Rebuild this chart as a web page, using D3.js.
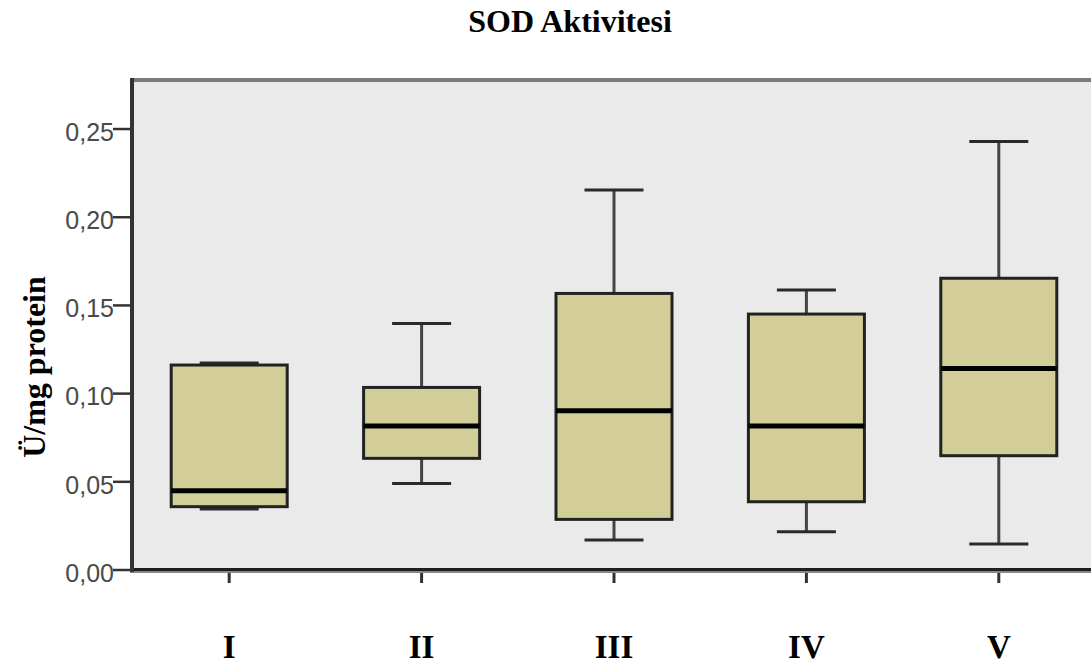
<!DOCTYPE html>
<html>
<head>
<meta charset="utf-8">
<script src="https://cdn.jsdelivr.net/npm/d3@7"></script>
<style>
  body { margin: 0; background: #fff; }
  svg { display: block; }
  .tickLabel { font-family: "Liberation Sans", Arial, sans-serif; font-size: 25px; fill: #4a4a4a; }
  .serif { font-family: "Liberation Serif", "Times New Roman", serif; font-weight: bold; fill: #000; }
</style>
</head>
<body>
<svg id="chart" width="1091" height="664"></svg>
<script>
// Box plot values (Ü/mg protein)
var groups  = ['I', 'II', 'III', 'IV', 'V'];
var mins    = [0.0346, 0.0491, 0.0170, 0.0217, 0.0147];
var q1s     = [0.0359, 0.0633, 0.0287, 0.0387, 0.0648];
var medians = [0.0450, 0.0816, 0.0903, 0.0816, 0.1143];
var q3s     = [0.1162, 0.1035, 0.1568, 0.1451, 0.1654];
var maxs    = [0.1173, 0.1398, 0.2154, 0.1587, 0.2430];
var yTicks  = [0, 0.05, 0.10, 0.15, 0.20, 0.25];

var rows = groups.map(function(g, i) {
  return { name: g, min: mins[i], q1: q1s[i], med: medians[i], q3: q3s[i], max: maxs[i] };
});

var margin = { left: 132, top: 80, bottom: 570, right: 1100 };
var svg = d3.select('#chart');

var y = d3.scaleLinear().domain([0, 0.2778]).range([margin.bottom, margin.top]);
var x = d3.scaleBand().domain(groups).range([133, 1095]).padding(0);

var boxW = 116, capW = 59;

// Plot background + frame
svg.append('rect')
  .attr('x', margin.left).attr('y', margin.top)
  .attr('width', margin.right - margin.left).attr('height', margin.bottom - margin.top)
  .style('fill', '#eaeaea');

svg.append('line')
  .attr('x1', margin.left).attr('x2', margin.right)
  .attr('y1', margin.top).attr('y2', margin.top)
  .style('stroke', '#7a7a7a').style('stroke-width', 4);

// Y axis ticks and labels
var yAxis = svg.append('g').attr('class', 'yAxis');
yAxis.selectAll('.yTick')
  .data(yTicks)
  .enter().append('line')
  .attr('class', 'yTick')
  .attr('x1', 113).attr('x2', margin.left)
  .attr('y1', function(d) { return y(d); })
  .attr('y2', function(d) { return y(d); })
  .style('stroke', '#333').style('stroke-width', 2.5);

yAxis.selectAll('.tickLabel')
  .data(yTicks)
  .enter().append('text')
  .attr('class', 'tickLabel')
  .attr('x', 114)
  .attr('y', function(d) { return y(d) + 3; })
  .attr('dy', '0.35em')
  .attr('text-anchor', 'end')
  .text(function(d) { return d3.format('.2f')(d).replace('.', ','); });

// X ticks
svg.selectAll('.xTick')
  .data(groups)
  .enter().append('line')
  .attr('class', 'xTick')
  .attr('x1', function(d) { return x(d) + x.bandwidth() / 2; })
  .attr('x2', function(d) { return x(d) + x.bandwidth() / 2; })
  .attr('y1', margin.bottom).attr('y2', 583)
  .style('stroke', '#333').style('stroke-width', 3);

// Axis lines
svg.append('line')
  .attr('x1', margin.left - 2).attr('x2', margin.right)
  .attr('y1', margin.bottom + 2).attr('y2', margin.bottom + 2)
  .style('stroke', '#888').style('stroke-width', 2);
svg.append('line')
  .attr('x1', margin.left - 2).attr('x2', margin.right)
  .attr('y1', margin.bottom - 0.5).attr('y2', margin.bottom - 0.5)
  .style('stroke', '#1e1e1e').style('stroke-width', 3);
svg.append('line')
  .attr('x1', margin.left).attr('x2', margin.left)
  .attr('y1', margin.top - 2).attr('y2', margin.bottom + 2)
  .style('stroke', '#333').style('stroke-width', 4);

// Boxes
var box = svg.selectAll('.box')
  .data(rows)
  .enter().append('g')
  .attr('class', 'box')
  .attr('transform', function(d) { return 'translate(' + (x(d.name) + x.bandwidth() / 2) + ',0)'; });

// whiskers
box.append('line')
  .attr('x1', 0).attr('x2', 0)
  .attr('y1', function(d) { return y(d.max); })
  .attr('y2', function(d) { return y(d.q3); })
  .style('stroke', '#444').style('stroke-width', 3);
box.append('line')
  .attr('x1', 0).attr('x2', 0)
  .attr('y1', function(d) { return y(d.q1); })
  .attr('y2', function(d) { return y(d.min); })
  .style('stroke', '#444').style('stroke-width', 3);

// caps
box.append('line')
  .attr('x1', -capW / 2).attr('x2', capW / 2)
  .attr('y1', function(d) { return y(d.max); })
  .attr('y2', function(d) { return y(d.max); })
  .style('stroke', '#2a2a2a').style('stroke-width', 3);
box.append('line')
  .attr('x1', -capW / 2).attr('x2', capW / 2)
  .attr('y1', function(d) { return y(d.min); })
  .attr('y2', function(d) { return y(d.min); })
  .style('stroke', '#2a2a2a').style('stroke-width', 3);

box.append('rect')
  .attr('x', -boxW / 2)
  .attr('width', boxW)
  .attr('y', function(d) { return y(d.q3); })
  .attr('height', function(d) { return y(d.q1) - y(d.q3); })
  .style('fill', '#d3ce98')
  .style('stroke', '#222').style('stroke-width', 3);

box.append('line')
  .attr('x1', -boxW / 2).attr('x2', boxW / 2)
  .attr('y1', function(d) { return y(d.med); })
  .attr('y2', function(d) { return y(d.med); })
  .style('stroke', '#000').style('stroke-width', 5);

// Category labels
svg.selectAll('.catLabel')
  .data(groups)
  .enter().append('text')
  .attr('class', 'serif catLabel')
  .attr('x', function(d) { return x(d) + x.bandwidth() / 2; })
  .attr('y', 658)
  .attr('text-anchor', 'middle')
  .style('font-size', '33px')
  .text(function(d) { return d; });

// Title
svg.append('text')
  .attr('class', 'serif')
  .attr('x', 570).attr('y', 32)
  .attr('text-anchor', 'middle')
  .style('font-size', '32px')
  .text('SOD Aktivitesi');

// Y axis label
svg.append('text')
  .attr('class', 'serif')
  .attr('transform', 'translate(45,367) rotate(-90)')
  .attr('text-anchor', 'middle')
  .style('font-size', '32px')
  .text('Ü/mg protein');
</script>
</body>
</html>
